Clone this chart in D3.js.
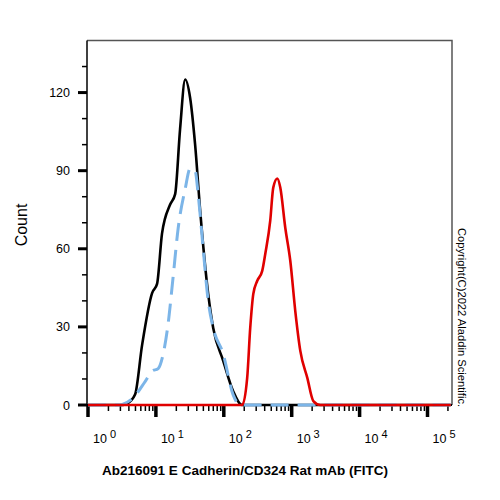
<!DOCTYPE html>
<html><head><meta charset="utf-8">
<script src="https://cdn.jsdelivr.net/npm/d3@7"></script>
<style>body{margin:0;background:#fff}svg{display:block}text{font-family:"Liberation Sans",Arial,sans-serif}</style>
</head><body><svg id="c" width="500" height="500"></svg>
<script>
// Fluorescence intensity (x) and Count (y)
const blackX = [1, 3.3, 3.76, 4.93, 6.26, 8.79, 10.4, 12.3, 16.2, 19.2, 22.7, 27.0, 31.9, 37.8, 44.9, 58.9, 69.8, 98, 137, 186, 220000];
const blackY = [0, 0, 0.5, 4, 23, 43, 46.5, 65.8, 77, 81, 106, 125, 118, 100, 74.6, 42.7, 29.6, 17, 5.4, 0, 0];
const blueX = [1, 3.0, 3.28, 4.61, 6.93, 8.79, 10.8, 12.8, 15.1, 17.9, 21.3, 27.0, 31.9, 37.8, 41.9, 49.7, 58.9, 69.8, 98, 137, 175, 220000];
const blueY = [0, 0, 0.3, 2.7, 9, 13, 14, 19.6, 31, 49, 68, 83, 90.8, 90, 81, 60, 40, 29.6, 19.6, 4, 0, 0];
const redX = [1, 187, 221, 245, 272, 311, 368, 408, 483, 535, 614, 679, 805, 953, 1130, 1339, 1698, 2084, 2640, 220000];
const redY = [0, 0, 10.4, 29.6, 42.7, 47.7, 51.5, 58, 70.8, 83.5, 87, 83.5, 68, 55.4, 36, 20.8, 10.4, 1.5, 0, 0];
const yMajor = [0, 30, 60, 90, 120];
const yMinor = [10, 20, 40, 50, 70, 80, 100, 110, 130];
const xDecades = [0, 1, 2, 3, 4, 5];
const xLabel = "Ab216091 E Cadherin/CD324 Rat mAb (FITC)";
const yLabel = "Count";
const copyright = "Copyright(C)2022 Aladdin Scientific.";

const svg = d3.select("#c");
const x = d3.scaleLog().domain([1, 1e5]).range([88, 427.5]);
const y = d3.scaleLinear().domain([0, 140]).range([405, 40.5]);
const L = 87, R = 452, T = 40.5, B = 405;

// frame (top and right, gray)
svg.append("path").attr("d", `M${L},${T}H${R}V${B}`).attr("fill","none").attr("stroke","#555").attr("stroke-width",1.5);
// y axis line
svg.append("line").attr("x1",L).attr("x2",L).attr("y1",T).attr("y2",B+1).attr("stroke","#000").attr("stroke-width",1.5);
// x axis line
svg.append("line").attr("x1",L).attr("x2",R).attr("y1",B).attr("y2",B).attr("stroke","#000").attr("stroke-width",2);

// y ticks
svg.selectAll(".ymaj").data(yMajor).join("line")
  .attr("x1",L-9).attr("x2",L).attr("y1",d=>y(d)).attr("y2",d=>y(d))
  .attr("stroke","#000").attr("stroke-width",3);
svg.selectAll(".ymin").data(yMinor).join("line")
  .attr("x1",L-5).attr("x2",L).attr("y1",d=>y(d)).attr("y2",d=>y(d))
  .attr("stroke","#000").attr("stroke-width",1.5);
svg.selectAll(".ylab").data(yMajor).join("text")
  .attr("x",L-17).attr("y",d=>y(d)+4.5).attr("text-anchor","end")
  .attr("font-size",12.5).attr("fill","#000").text(d=>d);

// x ticks
const xMinor = [];
for (let e = 0; e < 6; e++) for (let k = 2; k <= 9; k++) { const v = k * Math.pow(10, e); if (x(v) < R) xMinor.push(v); }
svg.selectAll(".xmin").data(xMinor).join("line")
  .attr("x1",d=>x(d)).attr("x2",d=>x(d)).attr("y1",B).attr("y2",B+6)
  .attr("stroke","#000").attr("stroke-width",1.5);
svg.selectAll(".xmaj").data(xDecades).join("line")
  .attr("x1",d=>x(Math.pow(10,d))).attr("x2",d=>x(Math.pow(10,d))).attr("y1",B).attr("y2",B+12)
  .attr("stroke","#000").attr("stroke-width",3.5);
const xl = svg.selectAll(".xlab").data(xDecades).join("text")
  .attr("x",d=>x(Math.pow(10,d))+5).attr("y",443)
  .attr("font-size",12.5).attr("fill","#000");
xl.append("tspan").text("10");
xl.append("tspan").attr("dx",3).attr("dy",-5).attr("font-size",11).text(d=>d);

// curves
const line = d3.line().x(d=>x(d[0])).y(d=>y(d[1])).curve(d3.curveMonotoneX);
svg.append("path").datum(d3.zip(blackX, blackY)).attr("d", line)
  .attr("fill","none").attr("stroke","#000").attr("stroke-width",2.6).attr("stroke-linejoin","round");
svg.append("path").datum(d3.zip(blueX, blueY)).attr("d", line)
  .attr("fill","none").attr("stroke","#7cb5e8").attr("stroke-width",3).attr("stroke-dasharray","18,9");
svg.append("path").datum(d3.zip(redX, redY)).attr("d", line)
  .attr("fill","none").attr("stroke","#e00000").attr("stroke-width",2.6).attr("stroke-linejoin","round");

// labels
svg.append("text").attr("transform","translate(27,225) rotate(-90)").attr("text-anchor","middle")
  .attr("font-size",16).attr("fill","#000").text(yLabel);
svg.append("text").attr("x",245).attr("y",475).attr("text-anchor","middle")
  .attr("font-size",13.5).attr("font-weight","bold").attr("fill","#000").text(xLabel);
svg.append("text").attr("transform","translate(458,228) rotate(90)").attr("text-anchor","start")
  .attr("font-size",11.2).attr("fill","#000").text(copyright);
</script></body></html>
